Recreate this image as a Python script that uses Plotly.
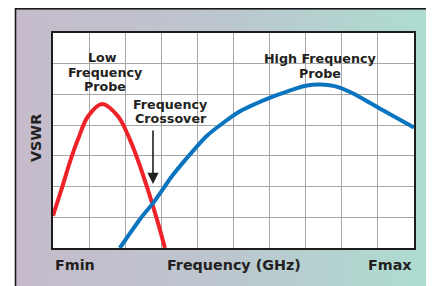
import base64
import plotly.graph_objects as go

# ---- data ----
low_x = [0, 0.23, 0.51, 0.69, 0.97, 1.36, 1.80, 2.13, 2.33, 2.63, 2.91, 3.10]
low_y = [1.05, 1.89, 2.95, 3.53, 4.29, 4.69, 4.29, 3.53, 2.93, 1.89, 0.81, 0]

high_x = [1.85, 2.43, 2.77, 3.33, 3.79, 4.25, 4.71, 5.18, 5.6, 6.0, 6.5, 7.0, 7.4, 7.8, 8.3, 8.8, 9.3, 10]
high_y = [0, 0.97, 1.46, 2.39, 3.04, 3.64, 4.07, 4.45, 4.69, 4.89, 5.10, 5.28, 5.32, 5.27, 5.04, 4.71, 4.38, 3.92]

x_labels = ["Fmin", "Frequency (GHz)", "Fmax"]
y_label = "VSWR"

# page body has an 8px margin: figure starts at (8, 8) in the window
OFF = 8
W, H = 426, 278
L, R, T, B = 45, 20, 25, 38
PW, PH = W - L - R, H - T - B

FONT = "DejaVu Sans"
TXT = "#231F20"

svg = (
    f'<svg xmlns="http://www.w3.org/2000/svg" width="{W}" height="{H}" viewBox="0 0 {W} {H}" '
    'preserveAspectRatio="none"><defs><linearGradient id="g" x1="0" y1="0" x2="1" y2="0">'
    '<stop offset="0" stop-color="#C6BBCB"/><stop offset="0.5" stop-color="#BCC6CE"/>'
    '<stop offset="1" stop-color="#ADDDD1"/></linearGradient></defs>'
    '<rect x="7.5" y="0.8" width="415" height="300" fill="url(#g)" stroke="#1a1a1a" stroke-width="1.6"/></svg>'
)
src = "data:image/svg+xml;base64," + base64.b64encode(svg.encode()).decode()

fig = go.Figure()
fig.add_trace(go.Scatter(x=low_x, y=low_y, mode="lines",
                         line=dict(color="#EE2228", width=4, shape="spline", smoothing=1.0),
                         hoverinfo="skip"))
fig.add_trace(go.Scatter(x=high_x, y=high_y, mode="lines",
                         line=dict(color="#0A74BE", width=4, shape="spline", smoothing=0.8),
                         hoverinfo="skip"))


def px2x(px):
    return (px - OFF - L) / PW * 10


def py2y(py):
    return (H - B - (py - OFF)) / PH * 7


def label(text, px, py, size=12.7):
    fig.add_annotation(x=px2x(px), y=py2y(py), xref="x", yref="y", text=text,
                       showarrow=False, xanchor="center", yanchor="middle",
                       font=dict(family=FONT, size=size, color=TXT, weight=700))


label("Low", 102.5, 57.5)
label("Frequency", 105, 72)
label("Probe", 104.5, 86)
label("Frequency", 170.5, 104)
label("Crossover", 170.5, 118)
label("High Frequency", 319.5, 58)
label("Probe", 319.5, 73)

# arrow
fig.add_annotation(x=px2x(153), y=py2y(184), ax=px2x(153), ay=py2y(129),
                   xref="x", yref="y", axref="x", ayref="y", text="",
                   showarrow=True, arrowhead=2, arrowsize=1.4, arrowwidth=1.6,
                   arrowcolor=TXT, standoff=0)

# axis texts
ylab = (H - B - (265 - OFF)) / PH
for txt, xp, anc in zip(x_labels, [0, 0.5, 1], ["left", "center", "right"]):
    fig.add_annotation(x=xp, y=ylab, xref="paper", yref="paper", text=txt,
                       showarrow=False, xanchor=anc, yanchor="middle",
                       font=dict(family=FONT, size=14.3, color=TXT, weight=700))
fig.add_annotation(x=(36 - OFF - L) / PW, y=(H - B - (138 - OFF)) / PH, xref="paper", yref="paper",
                   text=y_label, showarrow=False, textangle=-90,
                   xanchor="center", yanchor="middle",
                   font=dict(family=FONT, size=14.3, color=TXT, weight=700))

fig.add_shape(type="rect", xref="x", yref="y", x0=0, x1=10, y0=0, y1=7,
              fillcolor="white", line=dict(width=0), layer="below")

fig.add_layout_image(source=src, xref="paper", yref="paper",
                     x=-L / PW, y=1 + T / PH, sizex=W / PW, sizey=H / PH,
                     xanchor="left", yanchor="top", sizing="stretch", layer="below")

axis_common = dict(showgrid=True, gridcolor="#A6A6A6", gridwidth=1.4,
                   showline=True, linecolor="#1c1c1c", linewidth=2, mirror=True,
                   zeroline=False, showticklabels=False, ticks="", fixedrange=True)
fig.update_xaxes(range=[0, 10], dtick=1, **axis_common)
fig.update_yaxes(range=[0, 7], dtick=1, **axis_common)

fig.update_layout(width=W, height=H, margin=dict(l=L, r=R, t=T, b=B),
                  paper_bgcolor="white", plot_bgcolor="white", showlegend=False)

fig.write_html("out.html")
